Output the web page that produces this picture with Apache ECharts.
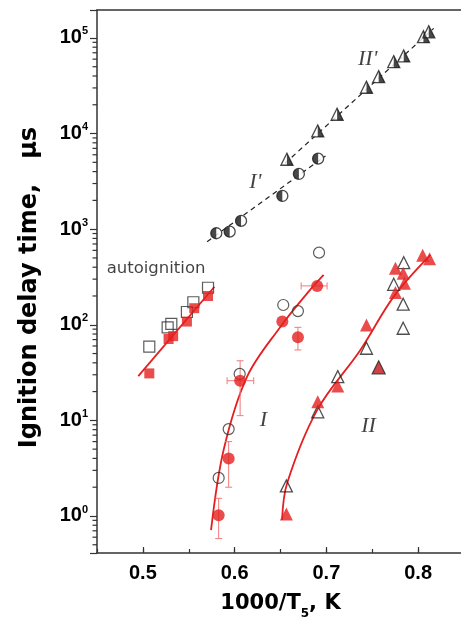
<!DOCTYPE html>
<html>
<head>
<meta charset="utf-8">
<script src="https://cdn.jsdelivr.net/npm/echarts@6/dist/echarts.min.js"></script>
<style>
  html, body { margin: 0; padding: 0; background: #fff; }
  #chart { width: 461px; height: 624px; }
</style>
</head>
<body>
<div id="chart"></div>
<script>
// ---- autoignition (squares) ----
const autoOpenX = [0.507, 0.527, 0.531, 0.548, 0.555, 0.571];
const autoOpenY = [59, 94, 102, 136, 172, 244];
const autoRedX  = [0.507, 0.528, 0.533, 0.548, 0.556, 0.571];
const autoRedY  = [31, 71, 76, 108, 149, 200];
const autoFitX  = [0.495, 0.578];
const autoFitY  = [29, 250];

// ---- regime I (circles) ----
const iOpenX = [0.692, 0.653, 0.669, 0.6055, 0.5935, 0.5826];
const iOpenY = [568, 161, 139, 30.6, 8.1, 2.5];
const iRedX  = [0.690, 0.652, 0.669, 0.606, 0.5935, 0.5826];
const iRedY  = [255, 108, 74, 26, 4.0, 1.02];
// error limits: [xLow, xHigh, yLow, yHigh] (null = none)
const iRedErr = [
  [0.6725, 0.7008, null, null],
  [null, null, null, null],
  [null, null, 54.5, 94],
  [0.5918, 0.6208, 11.2, 42],
  [null, null, 2.0, 6.0],
  [null, null, 0.58, 1.53]
];
const iFitX = [0.5743, 0.588, 0.6136, 0.650, 0.679, 0.697];
const iFitY = [0.71, 4.9, 28.7, 95.5, 213, 332];

// ---- regime II (triangles) ----
const iiOpenX = [0.7843, 0.7734, 0.7837, 0.7837, 0.7437, 0.7124, 0.6906, 0.6564];
const iiOpenY = [446, 265, 164, 92, 56.8, 28.7, 12.3, 2.06];
const iiRedX  = [0.805, 0.8125, 0.7753, 0.7837, 0.7851, 0.7753, 0.7437, 0.757, 0.7124, 0.6906, 0.6564];
const iiRedY  = [535, 490, 390, 346, 272, 217, 99.5, 35.9, 22.9, 15.7, 1.05];
const iiDarkPoint = 7;   // the one darker, outlined red triangle
const iiFitX  = [0.6517, 0.6572, 0.6899, 0.7371, 0.7734, 0.8135];
const iiFitY  = [0.91, 2.2, 12.8, 54.5, 197, 537];

// ---- regimes I' and II' (half-filled symbols) ----
const iPrimeX  = [0.580, 0.5946, 0.607, 0.652, 0.670, 0.691];
const iPrimeY  = [906, 942, 1219, 2225, 3778, 5466];
const iPrimeFitX = [0.570, 0.699];
const iPrimeFitY = [740, 5830];
const iiPrimeX = [0.657, 0.6906, 0.7117, 0.7437, 0.757, 0.7734, 0.7843, 0.8058, 0.8116];
const iiPrimeY = [5385, 10650, 15920, 30500, 39400, 56500, 64800, 103000, 116000];
const iiPrimeFitX = [0.655, 0.817];
const iiPrimeFitY = [4890, 126000];

// ---- y axis ----
const yDecades = [0.1, 1, 10, 100, 1000, 10000];
const yMinorSteps = [2, 3, 4, 5, 6, 7, 8, 9];

// ---- text annotations ----
const notes = [
  { text: 'autoignition', x: 0.4605, y: 390, kind: 'plain' },
  { text: "I'", x: 0.6226, y: 3120, kind: 'roman' },
  { text: "II'", x: 0.745, y: 60000, kind: 'roman' },
  { text: 'I', x: 0.6314, y: 10, kind: 'roman' },
  { text: 'II', x: 0.746, y: 8.7, kind: 'roman' }
];

const zip = (xs, ys) => xs.map((x, i) => [x, ys[i]]);

const RED = '#e51f1f';
const INK = '#1a1a1a';
const AXIS = '#333';
const SANS = '"Liberation Sans", Arial, sans-serif';
const WIDE = '"DejaVu Sans", Verdana, sans-serif';
const SERIF = '"Liberation Serif", "Times New Roman", serif';

const X_MIN = 0.45, X_MAX = 0.85;
const Y_MIN = 0.41, Y_MAX = 1.96e5;

// half-disc (left) and half-triangle (right) shapes for the half-filled markers
const HALF_DISC = 'path://M10,0 A10,10 0 0 0 10,20 Z';
const HALF_TRI  = 'path://M0,0 L10,20 L0,20 Z';

const errData = iRedX.map((x, i) => {
  const e = iRedErr[i];
  return [x, iRedY[i], e[0] == null ? x : e[0], e[1] == null ? x : e[1],
          e[2] == null ? iRedY[i] : e[2], e[3] == null ? iRedY[i] : e[3]];
});

function renderErr(params, api) {
  const x = api.value(0), y = api.value(1);
  const c = api.coord([x, y]);
  const parts = [];
  const st = { stroke: '#f07a7a', lineWidth: 1 };
  const cap = 3.5;
  const yl = api.value(4), yh = api.value(5);
  if (yl !== y || yh !== y) {
    const p1 = api.coord([x, yl]), p2 = api.coord([x, yh]);
    parts.push({ type: 'line', shape: { x1: c[0], y1: p1[1], x2: c[0], y2: p2[1] }, style: st });
    parts.push({ type: 'line', shape: { x1: c[0] - cap, y1: p1[1], x2: c[0] + cap, y2: p1[1] }, style: st });
    parts.push({ type: 'line', shape: { x1: c[0] - cap, y1: p2[1], x2: c[0] + cap, y2: p2[1] }, style: st });
  }
  const xl = api.value(2), xh = api.value(3);
  if (xl !== x || xh !== x) {
    const q1 = api.coord([xl, y]), q2 = api.coord([xh, y]);
    parts.push({ type: 'line', shape: { x1: q1[0], y1: c[1], x2: q2[0], y2: c[1] }, style: st });
    parts.push({ type: 'line', shape: { x1: q1[0], y1: c[1] - cap, x2: q1[0], y2: c[1] + cap }, style: st });
    parts.push({ type: 'line', shape: { x1: q2[0], y1: c[1] - cap, x2: q2[0], y2: c[1] + cap }, style: st });
  }
  return { type: 'group', children: parts };
}

// short outward marks at 2..9 of every decade on the log axis
const yMinorValues = [];
yDecades.forEach(d => yMinorSteps.forEach(m => {
  const v = d * m;
  if (v > Y_MIN && v < Y_MAX) yMinorValues.push([X_MIN, v]);
}));
function renderMinorTick(params, api) {
  const p = api.coord([api.value(0), api.value(1)]);
  return {
    type: 'line',
    shape: { x1: p[0] - 4.5, y1: p[1], x2: p[0], y2: p[1] },
    style: { stroke: AXIS, lineWidth: 1.2, fill: null }
  };
}

const chart = echarts.init(document.getElementById('chart'), null, { renderer: 'canvas' });

const option = {
  backgroundColor: '#fff',
  animation: false,
  grid: { left: 97, right: -3, top: 10, bottom: 71, outerBoundsMode: 'none' },
  xAxis: [
    {
      type: 'value', min: X_MIN, max: X_MAX, splitNumber: 4,
      axisLine: { lineStyle: { color: AXIS, width: 1.5 } },
      axisTick: { inside: true, length: 6, lineStyle: { color: AXIS, width: 1.2 } },
      minorTick: { show: false },
      splitLine: { show: false },
      axisLabel: {
        margin: 10, color: '#000', fontFamily: SANS, fontWeight: 'bold', fontSize: 20,
        showMinLabel: false, showMaxLabel: false,
        formatter: v => (Math.abs(v * 10 - Math.round(v * 10)) < 1e-6 ? v.toFixed(1) : '')
      },
      name: '1000/T{sub|5}, K',
      nameLocation: 'middle', nameGap: 40,
      nameTextStyle: {
        color: '#000', fontFamily: WIDE, fontWeight: 'bold', fontSize: 21,
        rich: { sub: { fontFamily: WIDE, fontWeight: 'bold', fontSize: 12, verticalAlign: 'bottom', lineHeight: 12, padding: [0, 0, -6, 0] } }
      }
    },
    {
      // secondary scale carrying the short intermediate ticks
      type: 'value', min: X_MIN, max: X_MAX, interval: 0.05, position: 'bottom',
      axisLine: { show: false },
      axisTick: { inside: true, length: 4, lineStyle: { color: AXIS, width: 1.2 } },
      axisLabel: { show: false }, splitLine: { show: false }
    },
    {
      // top frame edge
      type: 'value', min: X_MIN, max: X_MAX, position: 'top',
      axisLine: { lineStyle: { color: AXIS, width: 1.5 } },
      axisTick: { show: false }, axisLabel: { show: false }, splitLine: { show: false }
    }
  ],
  yAxis: {
    type: 'log', logBase: 10, min: Y_MIN, max: Y_MAX,
    axisLine: { lineStyle: { color: AXIS, width: 1.5 } },
    axisTick: { inside: false, length: 7, lineStyle: { color: AXIS, width: 1.2 } },
    minorTick: { show: false },
    splitLine: { show: false },
    axisLabel: {
      margin: 9, color: '#000',
      formatter: v => {
        const e = Math.log10(v), r = Math.round(e);
        if (Math.abs(e - r) > 1e-6) return '';
        return '{b|10}{s|' + r + '}';
      },
      rich: {
        b: { fontFamily: SANS, fontWeight: 'bold', fontSize: 20, lineHeight: 24, color: '#000' },
        s: { fontFamily: SANS, fontWeight: 'bold', fontSize: 11, lineHeight: 12, verticalAlign: 'top', color: '#000' }
      }
    },
    name: 'Ignition delay time,   μs',
    nameLocation: 'middle', nameGap: 55, nameRotate: 90,
    nameTextStyle: { color: '#000', fontFamily: WIDE, fontWeight: 'bold', fontSize: 24, padding: [0, 12, 0, 0] }
  },
  series: [
    // minor marks on the y axis
    { type: 'custom', coordinateSystem: 'cartesian2d', data: yMinorValues, renderItem: renderMinorTick,
      clip: false, silent: true, z: 10 },

    // fitted lines
    { type: 'line', data: zip(autoFitX, autoFitY), symbol: 'none', lineStyle: { color: RED, width: 1.8 }, z: 2 },
    { type: 'line', data: zip(iFitX, iFitY), smooth: 0.35, symbol: 'none', lineStyle: { color: RED, width: 1.8 }, z: 2 },
    { type: 'line', data: zip(iiFitX, iiFitY), smooth: 0.35, symbol: 'none', lineStyle: { color: RED, width: 1.8 }, z: 2 },
    { type: 'line', data: zip(iPrimeFitX, iPrimeFitY), symbol: 'none', lineStyle: { color: '#222', width: 1.2, type: [5, 4] }, z: 2 },
    { type: 'line', data: zip(iiPrimeFitX, iiPrimeFitY), symbol: 'none', lineStyle: { color: '#222', width: 1.2, type: [5, 4] }, z: 2 },

    // autoignition
    { type: 'scatter', data: zip(autoOpenX, autoOpenY), symbol: 'rect', symbolSize: 11,
      itemStyle: { color: 'rgba(255,255,255,0)', borderColor: '#333', borderWidth: 1.2 }, z: 3 },
    { type: 'scatter', data: zip(autoRedX, autoRedY), symbol: 'rect', symbolSize: 10,
      itemStyle: { color: RED }, z: 4 },

    // regime I
    { type: 'scatter', data: zip(iOpenX, iOpenY), symbol: 'circle', symbolSize: 11,
      itemStyle: { color: 'rgba(255,255,255,0)', borderColor: '#333', borderWidth: 1.2 }, z: 3 },
    { type: 'custom', data: errData, renderItem: renderErr, z: 3, silent: true },
    { type: 'scatter', data: zip(iRedX, iRedY), symbol: 'circle', symbolSize: 12,
      itemStyle: { color: RED }, z: 4 },

    // regime II
    { type: 'scatter', data: zip(iiOpenX, iiOpenY), symbol: 'triangle', symbolSize: 12,
      itemStyle: { color: 'rgba(255,255,255,0)', borderColor: '#222', borderWidth: 1.3 }, z: 3 },
    { type: 'scatter', symbol: 'triangle', symbolSize: 13, itemStyle: { color: RED }, z: 4,
      data: zip(iiRedX, iiRedY).map((p, i) => i === iiDarkPoint
        ? { value: p, itemStyle: { color: '#c0141a', borderColor: '#222', borderWidth: 1.2 } }
        : p) },

    // regime I' : outline + left half filled
    { type: 'scatter', data: zip(iPrimeX, iPrimeY), symbol: 'circle', symbolSize: 11,
      itemStyle: { color: '#fff', borderColor: INK, borderWidth: 1.3 }, z: 5 },
    { type: 'scatter', data: zip(iPrimeX, iPrimeY), symbol: HALF_DISC, symbolSize: 11,
      symbolKeepAspect: true, symbolOffset: [-2.75, 0], itemStyle: { color: INK }, z: 6 },

    // regime II' : outline + right half filled
    { type: 'scatter', data: zip(iiPrimeX, iiPrimeY), symbol: 'triangle', symbolSize: 12,
      itemStyle: { color: '#fff', borderColor: INK, borderWidth: 1.3 }, z: 5 },
    { type: 'scatter', data: zip(iiPrimeX, iiPrimeY), symbol: HALF_TRI, symbolSize: 12,
      symbolKeepAspect: true, symbolOffset: [3, 0], itemStyle: { color: INK }, z: 6 },

    // annotations
    { type: 'scatter', silent: true, symbolSize: 0, z: 7,
      data: notes.map(n => ({
        value: [n.x, n.y],
        label: {
          show: true, position: 'inside', formatter: n.text,
          color: '#111',
          fontFamily: n.kind === 'plain' ? WIDE : SERIF,
          fontStyle: n.kind === 'plain' ? 'normal' : 'italic',
          fontSize: n.kind === 'plain' ? 16.5 : 22,
          align: n.kind === 'plain' ? 'left' : 'center'
        }
      }))
    }
  ]
};

chart.setOption(option);
</script>
</body>
</html>
